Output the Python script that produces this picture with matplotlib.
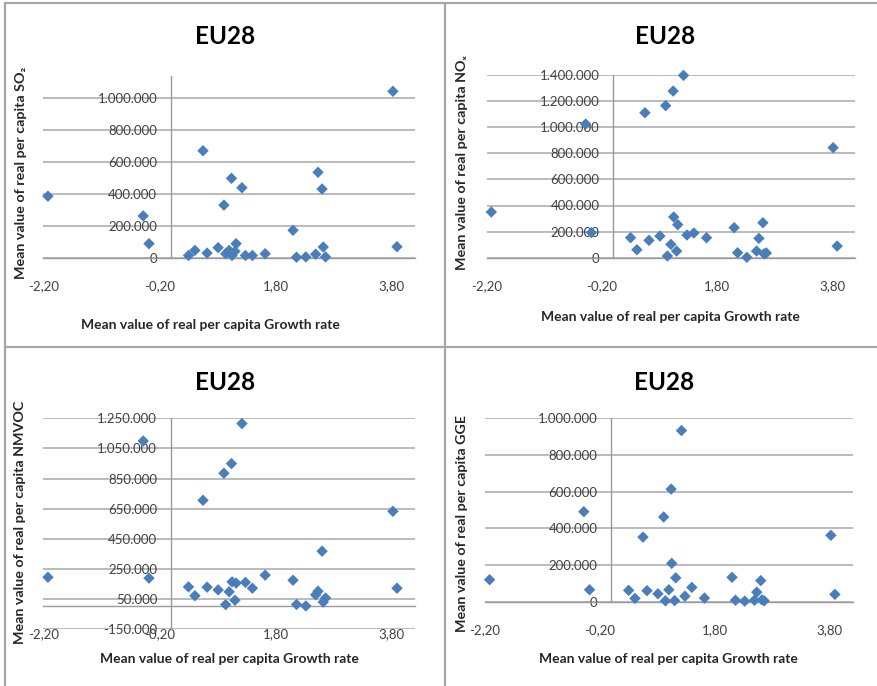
import matplotlib
matplotlib.use("Agg")
import matplotlib.pyplot as plt
from matplotlib.ticker import FuncFormatter
from matplotlib.lines import Line2D

# Mean real per-capita growth rate of each country (shared x for all panels)
growth = [-2.12, -0.48, -0.38, 0.30, 0.41, 0.55, 0.62, 0.81, 0.91, 0.94,
          1.00, 1.04, 1.05, 1.10, 1.12, 1.22, 1.28, 1.40, 1.62, 2.10,
          2.16, 2.32, 2.49, 2.53, 2.60, 2.62, 2.66, 3.82, 3.89]

# Mean real per-capita emissions
so2 = [386000, 262000, 88000, 14000, 46000, 671000, 29000, 63000, 330000, 25000,
       46000, 498000, 14000, 40000, 88000, 439000, 14000, 14000, 25000, 172000,
       3000, 5000, 22000, 536000, 431000, 67000, 5000, 1044000, 69000]
nox = [350000, 1024000, 192000, 153000, 61000, 1111000, 133000, 166000, 1165000, 13000,
       102000, 1277000, 312000, 51000, 253000, 1397000, 174000, 189000, 153000, 230000,
       38000, 3000, 51000, 148000, 268000, 30000, 36000, 843000, 89000]
nmvoc = [194000, 1099000, 188000, 130000, 71000, 705000, 128000, 110000, 885000, 12000,
         97000, 949000, 163000, 41000, 155000, 1215000, 160000, 121000, 208000, 174000,
         13000, 3000, 77000, 101000, 367000, 29000, 56000, 632000, 121000]
gge = [120000, 491000, 65000, 62000, 18000, 352000, 60000, 43000, 462000, 5000,
       65000, 614000, 209000, 6000, 130000, 933000, 30000, 78000, 20000, 133000,
       8000, 3000, 8000, 52000, 115000, 10000, 5000, 362000, 40000]

x_ticks = [-2.2, -0.2, 1.8, 3.8]
so2_ticks = [0, 200000, 400000, 600000, 800000, 1000000]
nox_ticks = [0, 200000, 400000, 600000, 800000, 1000000, 1200000, 1400000]
nmvoc_ticks = [-150000, 50000, 250000, 450000, 650000, 850000, 1050000, 1250000]
gge_ticks = [0, 200000, 400000, 600000, 800000, 1000000]

title = "EU28"
x_title = "Mean value of real per capita Growth rate"
y_titles = ["Mean value of real per capita SO\u2082",
            "Mean value of real per capita NO\u2093",
            "Mean value of real per capita NMVOC",
            "Mean value of real per capita GGE"]

plt.rcParams["font.family"] = ["Lato", "DejaVu Sans"]

W, H = 878, 686
fig = plt.figure(figsize=(W / 100, H / 100), dpi=100)
fig.patch.set_facecolor("white")


def fx(px):
    return px / W


def fy(py):
    return 1 - py / H


panels = [
    dict(box=(43.3, 76, 415, 257.7), ylim=(0, 1140000), yt=so2_ticks, vals=so2,
         ylab=y_titles[0], t=(225, 37), yl=(21, 173), xl=(210, 325)),
    dict(box=(486.7, 75, 855, 257.7), ylim=(0, 1400000), yt=nox_ticks, vals=nox,
         ylab=y_titles[1], t=(665, 37), yl=(462, 163), xl=(670, 317)),
    dict(box=(43.3, 418.3, 415, 629), ylim=(-150000, 1250000), yt=nmvoc_ticks, vals=nmvoc,
         ylab=y_titles[2], t=(225, 382), yl=(20, 522), xl=(229, 659)),
    dict(box=(485, 418.3, 852.7, 601.7), ylim=(0, 1000000), yt=gge_ticks, vals=gge,
         ylab=y_titles[3], t=(664, 382), yl=(462, 523), xl=(668, 659)),
]

yfmt = FuncFormatter(lambda v, p: f"{int(round(v)):,}".replace(",", "."))
xfmt = FuncFormatter(lambda v, p: f"{v:.2f}".replace(".", ","))

for p in panels:
    l, t, r, b = p["box"]
    ax = fig.add_axes([fx(l), fy(b), fx(r) - fx(l), fy(t) - fy(b)])
    ax.set_facecolor("none")
    ax.set_xlim(-2.2, 4.2)
    ax.set_ylim(*p["ylim"])
    ax.set_xticks(x_ticks)
    ax.set_yticks(p["yt"])
    ax.xaxis.set_major_formatter(xfmt)
    ax.yaxis.set_major_formatter(yfmt)
    ax.grid(axis="y", color="#a8a8a8", lw=1.1)
    ax.grid(axis="x", visible=False)
    ax.set_axisbelow(True)
    for s in ("top", "right"):
        ax.spines[s].set_visible(False)
    ax.spines["left"].set_position(("data", 0))
    ax.spines["bottom"].set_position(("data", 0))
    for s in ("left", "bottom"):
        ax.spines[s].set_color("#9a9a9a")
        ax.spines[s].set_linewidth(1.0)
    ax.tick_params(length=0, labelsize=9.5, labelcolor="#404040")
    ax.tick_params(axis="x", pad=16)
    ax.tick_params(axis="y", pad=10)
    ax.scatter(growth, p["vals"], marker="D", s=34, color="#4a7ebb",
               edgecolors="none", zorder=3, clip_on=False)

    fig.text(fx(p["t"][0]), fy(p["t"][1]), title, ha="center", va="center",
             fontsize=17.5, fontweight="bold", color="black")
    fig.text(fx(p["yl"][0]), fy(p["yl"][1]), p["ylab"], ha="center", va="center",
             rotation=90, fontsize=10.3, fontweight="bold", color="#262626")
    fig.text(fx(p["xl"][0]), fy(p["xl"][1]), x_title, ha="center", va="center",
             fontsize=10, fontweight="bold", color="#262626")

# chart frames
frame = dict(color="#a6a6a6", lw=1.6, transform=fig.transFigure)
fig.add_artist(Line2D([fx(5), fx(5)], [0, fy(3)], **frame))
fig.add_artist(Line2D([fx(5), 1], [fy(3), fy(3)], **frame))
fig.add_artist(Line2D([fx(445), fx(445)], [0, fy(3)], **frame))
fig.add_artist(Line2D([fx(5), 1], [fy(347), fy(347)], **frame))

fig.savefig("out.png", dpi=100, facecolor="white")
